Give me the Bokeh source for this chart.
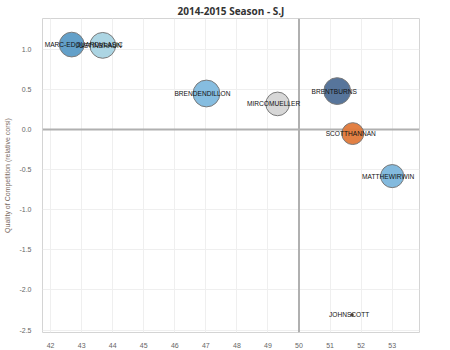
import numpy as np
from bokeh.plotting import figure
from bokeh.models import ColumnDataSource, Span, FixedTicker, Range1d, PrintfTickFormatter
from bokeh.core.properties import value
from bokeh.embed import file_html
from bokeh.resources import INLINE

# ---- data ----
players = ["MARC-EDOUARDVLASIC", "JUSTINBRAUN", "BRENDENDILLON", "MIRCOMUELLER",
           "BRENTBURNS", "SCOTTHANNAN", "MATTHEWIRWIN", "JOHNSCOTT"]
zone_start = [42.68, 43.68, 47.02, 49.31, 51.23, 51.73, 53.0, 51.71]
qoc = [1.06, 1.05, 0.45, 0.32, 0.48, -0.05, -0.58, -2.31]
ev_toi = [1150, 1250, 1350, 1050, 1350, 900, 1000, 15]
x_ticks = [42, 43, 44, 45, 46, 47, 48, 49, 50, 51, 52, 53]
y_ticks = [-2.5, -2.0, -1.5, -1.0, -0.5, 0.0, 0.5, 1.0]

# styling
colors = ["#5b9bc6", "#a8d3e1", "#80b9de", "#d5d5d5", "#4e6e96", "#e0793a", "#7cb6dc", "#7a3c1c"]
label_shift = [12, -4, -4, -4, -3, -2, -4, -3]

src = ColumnDataSource(dict(
    x=zone_start, y=qoc, name=players,
    size=[np.sqrt(v) * 0.73 for v in ev_toi],
    color=colors, dx=label_shift,
))

p = figure(width=450, height=350, output_backend="svg", toolbar_location=None,
           x_range=Range1d(41.74, 53.88), y_range=Range1d(-2.53, 1.385),
           min_border_left=42, min_border_right=31, min_border_top=0, min_border_bottom=17)

p.title.text = "2014-2015 Season - S.J"
p.title.align = "center"
p.title.text_font = "Open Sans"
p.title.text_font_style = "bold"
p.title.text_font_size = "10px"
p.title.text_color = "#333333"
p.title.standoff = 2
p.title.offset = 0

p.outline_line_color = "#d4d4d4"
p.background_fill_color = "white"
p.border_fill_color = "white"

for ax in (p.xaxis[0], p.yaxis[0]):
    ax.axis_line_color = None
    ax.major_tick_line_color = None
    ax.minor_tick_line_color = None
    ax.major_label_text_font = "Liberation Sans"
    ax.major_label_text_font_size = "7px"
    ax.major_label_text_color = "#666666"

p.xaxis.ticker = FixedTicker(ticks=x_ticks)
p.yaxis.ticker = FixedTicker(ticks=y_ticks)
p.yaxis.formatter = PrintfTickFormatter(format="%.1f")
p.xaxis.major_label_standoff = 4
p.yaxis.major_label_standoff = 5
p.yaxis.axis_label = "Quality of Competition (relative corsi)"
p.yaxis.axis_label_text_font = "Liberation Sans"
p.yaxis.axis_label_text_font_size = "7px"
p.yaxis.axis_label_text_font_style = "normal"
p.yaxis.axis_label_text_color = "#7a6a5f"
p.yaxis.axis_label_standoff = 5

p.xgrid.grid_line_color = "#efefef"
p.ygrid.grid_line_color = "#efefef"

p.add_layout(Span(location=50, dimension="height", line_color="#b0b0b0", line_width=2, level="underlay"))
p.add_layout(Span(location=0, dimension="width", line_color="#b0b0b0", line_width=2, level="underlay"))

p.scatter("x", "y", source=src, size="size", fill_color="color", fill_alpha=0.95,
          line_color="#7a7a7a", line_width=1)
p.text("x", "y", text="name", source=src, x_offset="dx", text_font=value("Liberation Sans"),
       text_font_size="6.6px", text_color="#111111", text_align="center",
       text_baseline="middle")

open("out.html", "w").write(file_html(p, INLINE))
